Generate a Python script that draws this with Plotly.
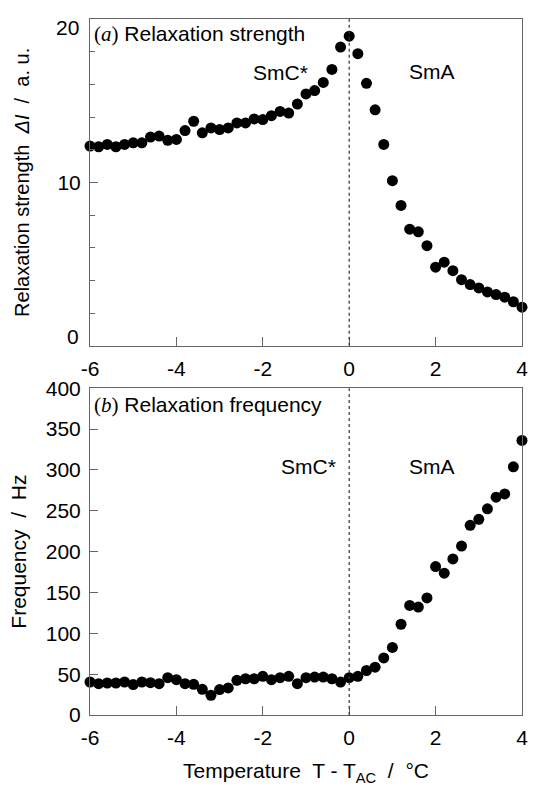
import plotly.graph_objects as go

temp_a = [round(-6 + 0.2 * i, 1) for i in range(51)]
strength = [12.22, 12.18, 12.32, 12.18, 12.32, 12.42, 12.42, 12.77, 12.83, 12.57,
            12.63, 13.17, 13.74, 13.03, 13.33, 13.23, 13.33, 13.64, 13.64, 13.88,
            13.84, 14.08, 14.34, 14.24, 14.79, 15.41, 15.62, 16.12, 16.91, 18.28,
            18.95, 17.88, 16.06, 14.44, 12.32, 10.10, 8.59, 7.13, 6.97, 6.12,
            4.81, 5.11, 4.59, 4.04, 3.74, 3.54, 3.29, 3.13, 2.97, 2.69, 2.36]

temp_b = [round(-6 + 0.2 * i, 1) for i in range(51)]
frequency = [40.4, 38.4, 39.2, 39.2, 40.4, 37.2, 40.4, 39.6, 38.4, 45.7,
             43.2, 38.4, 37.6, 31.5, 24.2, 31.1, 33.1, 42.4, 44.4, 44.4,
             47.3, 43.2, 45.7, 47.3, 38.4, 45.7, 46.5, 46.5, 44.4, 40.4,
             45.7, 47.3, 54.5, 58.6, 69.9, 82.8, 111.1, 134.1, 132.1, 143.4,
             181.8, 173.7, 191.1, 206.9, 232.3, 239.6, 252.5, 266.7, 270.7, 303.8,
             336.2]

x_ticks = [-6, -4, -2, 0, 2, 4]
x_ticktext = ["-6", "-4", "-2", "0", "2", "4"]
ya_ticks = [0, 10, 20]
ya_ticktext = ["", "10", ""]
ya_minor = [2, 4, 6, 8, 12, 14, 16, 18]
ya_edge_labels = ["0", "20"]
ya_edge_pos = [0.55, 19.5]
yb_ticks = [0, 50, 100, 150, 200, 250, 300, 350, 400]

FONT = "Liberation Sans, Arial, sans-serif"
AX = "#666666"

fig = go.Figure()
marker = dict(color="black", size=11, line=dict(width=0))
fig.add_trace(go.Scatter(x=temp_a, y=strength, mode="markers", marker=marker,
                         xaxis="x", yaxis="y", showlegend=False, cliponaxis=False))
fig.add_trace(go.Scatter(x=temp_b, y=frequency, mode="markers", marker=marker,
                         xaxis="x2", yaxis="y2", showlegend=False, cliponaxis=False))

common_x = dict(range=[-6, 4], tickvals=x_ticks, ticktext=x_ticktext, ticks="inside",
                ticklen=9, tickcolor=AX, showline=True, linecolor=AX, linewidth=1,
                mirror=True, showgrid=False, zeroline=False,
                tickfont=dict(size=21, color="black"), ticklabelstandoff=4)

fig.update_layout(
    width=535, height=786, autosize=False,
    margin=dict(l=90, r=7, t=15, b=68),
    plot_bgcolor="white", paper_bgcolor="white",
    font=dict(family=FONT, size=21, color="black"),
    xaxis=dict(domain=[0, 1], anchor="y", **common_x),
    yaxis=dict(domain=[0.5306, 1], anchor="x", range=[0, 20], tickvals=ya_ticks,
               ticktext=ya_ticktext,
               ticks="inside", ticklen=8, tickcolor=AX, showline=True, linecolor=AX,
               linewidth=1, mirror=True, showgrid=False, zeroline=False,
               tickfont=dict(size=21, color="black"), ticklabelstandoff=4,
               minor=dict(tickvals=ya_minor, ticks="inside", ticklen=5, tickcolor=AX),
               title=dict(text="Relaxation strength  <i>ΔI</i>  /  a. u.",
                          font=dict(size=20), standoff=22)),
    xaxis2=dict(domain=[0, 1], anchor="y2",
                title=dict(text="Temperature  T - T<sub>AC</sub>  /  °C",
                           font=dict(size=21), standoff=15),
                **common_x),
    yaxis2=dict(domain=[0, 0.4694], anchor="x2", range=[0, 400], tickvals=yb_ticks,
                ticks="inside", ticklen=8, tickcolor=AX, showline=True, linecolor=AX,
                linewidth=1, mirror=True, showgrid=False, zeroline=False,
                tickfont=dict(size=21, color="black"), ticklabelstandoff=4,
                title=dict(text="Frequency  /  Hz", font=dict(size=21), standoff=13)),
)

for lab, pos in zip(ya_edge_labels, ya_edge_pos):
    fig.add_annotation(text=lab, xref="x domain", yref="y", x=0, y=pos,
                       xanchor="right", yanchor="middle", xshift=-9, showarrow=False,
                       font=dict(size=21, color="black"))

for xr, yr in (("x", "y"), ("x2", "y2")):
    fig.add_shape(type="line", xref=xr, yref=f"{yr} domain", x0=0, x1=0, y0=0, y1=1,
                  line=dict(color="#333333", width=1.2, dash="dot"))

def ann(text, xref, yref, x, y, xanchor="center"):
    fig.add_annotation(text=text, xref=xref, yref=yref, x=x, y=y, xanchor=xanchor,
                       yanchor="middle", showarrow=False, font=dict(size=21, color="black"))

ann("<span style=\"font-family:'Liberation Serif', serif\">(<i>a</i>)</span> Relaxation strength",
    "x domain", "y domain", 0.005, 0.955, "left")
ann("SmC*", "x", "y domain", -1.58, 0.835)
ann("SmA", "x", "y domain", 1.92, 0.84)
ann("<span style=\"font-family:'Liberation Serif', serif\">(<i>b</i>)</span> Relaxation frequency",
    "x2 domain", "y2 domain", 0.005, 0.948, "left")
ann("SmC*", "x2", "y2 domain", -0.95, 0.762)
ann("SmA", "x2", "y2 domain", 1.92, 0.762)

fig.write_html(
    "out.html",
    config={"displayModeBar": False, "responsive": False},
    post_script=("document.body.style.margin='0';"
                 "document.body.style.overflow='hidden';"
                 "document.documentElement.style.overflow='hidden';"),
)
